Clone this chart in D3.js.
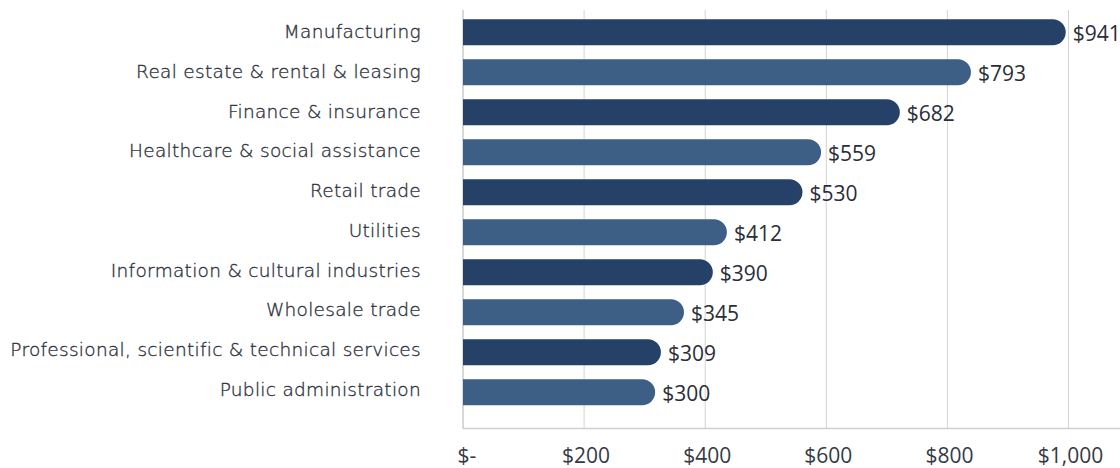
<!DOCTYPE html>
<html>
<head>
<meta charset="utf-8">
<script src="https://cdn.jsdelivr.net/npm/d3@7"></script>
<style>
  html, body { margin: 0; padding: 0; background: #fff; }
  svg { display: block; }
</style>
</head>
<body>
<svg id="chart" width="1120" height="468"></svg>
<script>
const categories = [
  "Manufacturing",
  "Real estate & rental & leasing",
  "Finance & insurance",
  "Healthcare & social assistance",
  "Retail trade",
  "Utilities",
  "Information & cultural industries",
  "Wholesale trade",
  "Professional, scientific & technical services",
  "Public administration"
];
const values = [941, 793, 682, 559, 530, 412, 390, 345, 309, 300];
const tickValues = [0, 200, 400, 600, 800, 1000];
const tickLabels = ["$-", "$200", "$400", "$600", "$800", "$1,000"];
const colors = ["#264168", "#3d5e85"];

const svg = d3.select("#chart");
const x0 = 463;
const xAxis = d3.scaleLinear().domain([0, 1000]).range([x0, 1068.5]);
const xBar = d3.scaleLinear().domain([0, 1000]).range([x0, 1103.5]);
const y = d3.scaleBand().domain(categories).range([12.3, 412.3])
  .paddingInner(0.35).paddingOuter(0.175);
const yLabel = d3.scalePoint().domain(categories).range([38, 396]);
const plotTop = 10, plotBottom = 428.5;

// gridlines
svg.append("g").selectAll("line")
  .data(tickValues.slice(1))
  .join("line")
  .attr("x1", d => xAxis(d)).attr("x2", d => xAxis(d))
  .attr("y1", plotTop).attr("y2", plotBottom)
  .attr("stroke", "#d3d3d3").attr("stroke-width", 1);

// bottom axis line
svg.append("line")
  .attr("x1", x0).attr("x2", 1120)
  .attr("y1", plotBottom).attr("y2", plotBottom)
  .attr("stroke", "#d0d0d0").attr("stroke-width", 1.3);

// zero line
svg.append("line")
  .attr("x1", x0).attr("x2", x0)
  .attr("y1", plotTop).attr("y2", plotBottom)
  .attr("stroke", "#cccccc").attr("stroke-width", 1.5);

// bars with rounded right end
const bh = y.bandwidth();
const r = bh / 2;
svg.append("g").selectAll("path")
  .data(values)
  .join("path")
  .attr("fill", (d, i) => colors[i % 2])
  .attr("d", (d, i) => {
    const yt = y(categories[i]);
    const xs = xBar(0), xe = xBar(d);
    return `M${xs},${yt} H${xe - r} A${r},${r} 0 0 1 ${xe - r},${yt + bh} H${xs} Z`;
  });

// value labels
svg.append("g").selectAll("text")
  .data(values)
  .join("text")
  .attr("x", d => xBar(d) + 7)
  .attr("y", (d, i) => y(categories[i]) + bh / 2)
  .attr("dy", "0.4em")
  .attr("font-family", "'Open Sans', sans-serif")
  .attr("font-size", 21)
  .attr("fill", "#2a2e38")
  .text(d => "$" + d);

// category labels
svg.append("g").selectAll("text")
  .data(categories)
  .join("text")
  .attr("x", 421)
  .attr("y", d => yLabel(d))
  .attr("text-anchor", "end")
  .attr("font-family", "'DejaVu Sans', sans-serif")
  .attr("font-weight", 300)
  .attr("font-size", 18.5)
  .attr("letter-spacing", 0.3)
  .attr("fill", "#2e333e")
  .attr("stroke", "#2e333e")
  .attr("stroke-width", 0.35)
  .text(d => d);

// tick labels
svg.append("g").selectAll("text")
  .data(tickValues)
  .join("text")
  .attr("x", (d, i) => xAxis(d) + (i === 0 ? 4 : 2))
  .attr("y", 463)
  .attr("text-anchor", "middle")
  .attr("font-family", "'Open Sans', sans-serif")
  .attr("font-size", 21)
  .attr("fill", "#353a45")
  .text((d, i) => tickLabels[i]);
</script>
</body>
</html>
